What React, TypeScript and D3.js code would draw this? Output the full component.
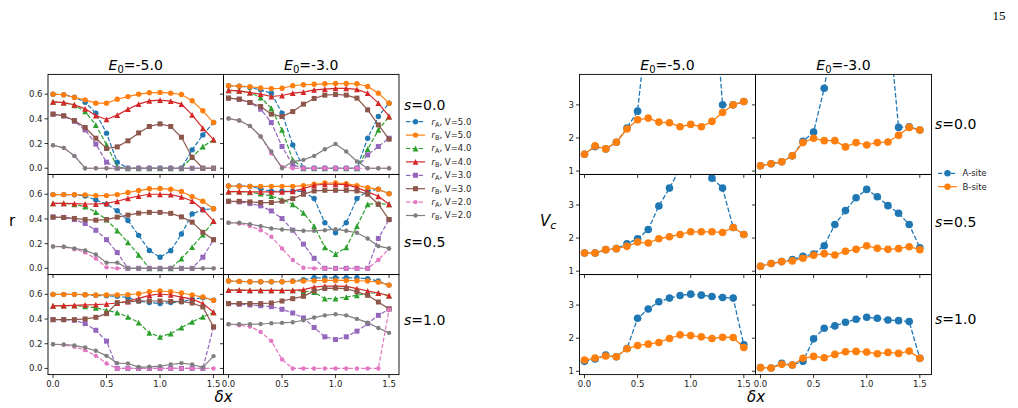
import React from "react";
import * as d3 from "d3";

// ---------- data ----------
const dx = [0, 0.1, 0.2, 0.3, 0.4, 0.5, 0.6, 0.7, 0.8, 0.9, 1.0, 1.1, 1.2, 1.3, 1.4, 1.5];
const E0Labels = ["-5.0", "-3.0"];
const sLabels = ["0.0", "0.5", "1.0"];
const rTicks = [0.0, 0.2, 0.4, 0.6];
const vTicks = [1, 2, 3];
const xTicks = [0.0, 0.5, 1.0, 1.5];
const seriesV = ["5.0", "5.0", "4.0", "4.0", "3.0", "3.0", "2.0", "2.0"];
const seriesSite = ["A", "B", "A", "B", "A", "B", "A", "B"];
const vcLabels = ["A-site", "B-site"];

// E0=-5, s=0.0
const m5s0_rA5 = [0.6, 0.595, 0.576, 0.535, 0.446, 0.284, 0.049, 0, 0, 0, 0, 0, 0, 0.149, 0.27, 0.37];
const m5s0_rB5 = [0.6, 0.595, 0.573, 0.554, 0.527, 0.527, 0.559, 0.58, 0.6, 0.611, 0.614, 0.608, 0.597, 0.546, 0.465, 0.37];
const m5s0_rA4 = [0.538, 0.532, 0.51, 0.46, 0.35, 0.19, 0.01, 0, 0, 0, 0, 0, 0, 0.09, 0.176, 0.23];
const m5s0_rB4 = [0.538, 0.532, 0.514, 0.481, 0.427, 0.395, 0.43, 0.478, 0.519, 0.546, 0.551, 0.543, 0.519, 0.432, 0.324, 0.232];
const m5s0_rA3 = [0.438, 0.424, 0.38, 0.31, 0.195, 0.049, 0, 0, 0, 0, 0, 0, 0, 0, 0, 0];
const m5s0_rB3 = [0.438, 0.424, 0.386, 0.33, 0.243, 0.16, 0.173, 0.222, 0.286, 0.338, 0.359, 0.338, 0.251, 0.089, 0, 0];
const m5s0_rA2 = [0.186, 0.165, 0.1, 0, 0, 0, 0, 0, 0, 0, 0, 0, 0, 0, 0, 0];
const m5s0_rB2 = [0.186, 0.165, 0.1, 0, 0, 0, 0, 0, 0, 0, 0, 0, 0, 0, 0, 0];

// E0=-3, s=0.0
const m3s0_rA5 = [0.668, 0.665, 0.654, 0.635, 0.608, 0.446, 0.189, 0, 0, 0, 0, 0, 0, 0.243, 0.419, 0.527];
const m3s0_rB5 = [0.668, 0.665, 0.66, 0.65, 0.645, 0.648, 0.668, 0.676, 0.68, 0.684, 0.686, 0.686, 0.684, 0.662, 0.608, 0.527];
const m3s0_rA4 = [0.63, 0.627, 0.613, 0.573, 0.486, 0.31, 0.068, 0, 0, 0, 0, 0, 0, 0.154, 0.31, 0.419];
const m3s0_rB4 = [0.63, 0.627, 0.613, 0.6, 0.581, 0.589, 0.608, 0.616, 0.635, 0.641, 0.646, 0.646, 0.638, 0.608, 0.527, 0.419];
const m3s0_rA3 = [0.568, 0.559, 0.532, 0.478, 0.37, 0.176, 0.027, 0, 0, 0, 0, 0, 0, 0.108, 0.176, 0.243];
const m3s0_rB3 = [0.568, 0.559, 0.532, 0.5, 0.438, 0.419, 0.459, 0.519, 0.565, 0.592, 0.597, 0.592, 0.568, 0.473, 0.351, 0.235];
const m3s0_rA2 = [0.403, 0.386, 0.343, 0.257, 0.12, 0.01, 0, 0, 0, 0, 0, 0, 0, 0, 0, 0];
const m3s0_rB2 = [0.403, 0.386, 0.343, 0.257, 0.135, 0, 0.054, 0.068, 0.1, 0.154, 0.197, 0.135, 0.054, 0, 0, 0];

// E0=-5, s=0.5
const m5s05_rA5 = [0.597, 0.597, 0.595, 0.586, 0.554, 0.52, 0.466, 0.387, 0.267, 0.144, 0.09, 0.142, 0.278, 0.441, 0.474, 0.483];
const m5s05_rB5 = [0.597, 0.597, 0.597, 0.595, 0.589, 0.589, 0.597, 0.614, 0.63, 0.644, 0.646, 0.641, 0.622, 0.581, 0.543, 0.483];
const m5s05_rA4 = [0.526, 0.526, 0.518, 0.499, 0.455, 0.395, 0.305, 0.21, 0.109, 0, 0, 0, 0.079, 0.172, 0.273, 0.382];
const m5s05_rB4 = [0.526, 0.526, 0.524, 0.521, 0.521, 0.526, 0.543, 0.567, 0.586, 0.6, 0.6, 0.597, 0.578, 0.545, 0.477, 0.382];
const m5s05_rA3 = [0.415, 0.412, 0.395, 0.363, 0.308, 0.232, 0.128, 0, 0, 0, 0, 0, 0, 0, 0.09, 0.232];
const m5s05_rB3 = [0.415, 0.412, 0.404, 0.395, 0.39, 0.395, 0.415, 0.431, 0.447, 0.453, 0.453, 0.445, 0.417, 0.374, 0.292, 0.232];
const m5s05_rA2 = [0.177, 0.175, 0.155, 0.128, 0.079, 0.008, 0, 0, 0, 0, 0, 0, 0, 0, 0, 0];
const m5s05_rB2 = [0.177, 0.175, 0.161, 0.145, 0.112, 0.046, 0.046, 0, 0, 0, 0, 0, 0, 0, 0, 0];

// E0=-3, s=0.5
const m3s05_rA5 = [0.667, 0.667, 0.664, 0.645, 0.624, 0.624, 0.624, 0.624, 0.565, 0.369, 0.288, 0.369, 0.565, 0.627, 0.64, 0.605];
const m3s05_rB5 = [0.667, 0.664, 0.664, 0.664, 0.664, 0.664, 0.664, 0.67, 0.681, 0.691, 0.691, 0.686, 0.67, 0.654, 0.64, 0.605];
const m3s05_rA4 = [0.621, 0.621, 0.616, 0.605, 0.586, 0.556, 0.519, 0.449, 0.342, 0.169, 0.116, 0.169, 0.342, 0.519, 0.525, 0.519];
const m3s05_rB4 = [0.621, 0.621, 0.619, 0.619, 0.619, 0.619, 0.624, 0.646, 0.673, 0.681, 0.681, 0.678, 0.654, 0.619, 0.584, 0.519];
const m3s05_rA3 = [0.543, 0.538, 0.525, 0.506, 0.465, 0.403, 0.309, 0.196, 0.081, 0, 0, 0, 0, 0, 0.242, 0.395];
const m3s05_rB3 = [0.543, 0.543, 0.538, 0.533, 0.533, 0.543, 0.565, 0.6, 0.627, 0.632, 0.632, 0.632, 0.627, 0.6, 0.519, 0.395];
const m3s05_rA2 = [0.369, 0.363, 0.342, 0.309, 0.256, 0.161, 0.067, 0.005, 0, 0, 0, 0, 0, 0, 0.067, 0.161];
const m3s05_rB2 = [0.369, 0.369, 0.358, 0.342, 0.323, 0.315, 0.309, 0.304, 0.304, 0.309, 0.317, 0.304, 0.288, 0.242, 0.18, 0.161];

// E0=-5, s=1.0
const m5s10_rA5 = [0.6, 0.6, 0.6, 0.597, 0.592, 0.589, 0.584, 0.573, 0.546, 0.533, 0.525, 0.533, 0.54, 0.56, 0.573, 0.552];
const m5s10_rB5 = [0.6, 0.6, 0.6, 0.597, 0.595, 0.595, 0.595, 0.597, 0.605, 0.621, 0.627, 0.621, 0.611, 0.595, 0.578, 0.552];
const m5s10_rA4 = [0.506, 0.508, 0.508, 0.503, 0.49, 0.471, 0.452, 0.417, 0.371, 0.288, 0.256, 0.282, 0.331, 0.377, 0.417, 0.455];
const m5s10_rB4 = [0.506, 0.508, 0.511, 0.514, 0.517, 0.522, 0.53, 0.543, 0.568, 0.592, 0.603, 0.595, 0.578, 0.562, 0.525, 0.455];
const m5s10_rA3 = [0.395, 0.395, 0.39, 0.363, 0.309, 0.221, 0, 0, 0, 0, 0, 0, 0, 0, 0, 0.336];
const m5s10_rB3 = [0.395, 0.395, 0.395, 0.401, 0.414, 0.444, 0.533, 0.538, 0.546, 0.546, 0.546, 0.543, 0.541, 0.53, 0.498, 0.336];
const m5s10_rA2 = [0.196, 0.191, 0.175, 0.148, 0.102, 0.04, 0, 0, 0, 0, 0, 0, 0, 0, 0, 0];
const m5s10_rB2 = [0.196, 0.194, 0.186, 0.169, 0.143, 0.102, 0.043, 0.04, 0.011, 0.013, 0.019, 0.032, 0.043, 0.032, 0.008, 0.1];

// E0=-3, s=1.0
const m3s10_rA5 = [0.708, 0.705, 0.702, 0.702, 0.702, 0.702, 0.708, 0.718, 0.734, 0.734, 0.734, 0.734, 0.734, 0.726, 0.708, 0.675];
const m3s10_rB5 = [0.708, 0.705, 0.702, 0.702, 0.702, 0.702, 0.705, 0.708, 0.71, 0.713, 0.713, 0.713, 0.71, 0.708, 0.699, 0.675];
const m3s10_rA4 = [0.635, 0.635, 0.632, 0.632, 0.632, 0.632, 0.632, 0.627, 0.619, 0.565, 0.565, 0.578, 0.592, 0.611, 0.611, 0.589];
const m3s10_rB4 = [0.635, 0.635, 0.632, 0.632, 0.632, 0.632, 0.632, 0.638, 0.659, 0.667, 0.667, 0.665, 0.646, 0.627, 0.611, 0.589];
const m3s10_rA3 = [0.525, 0.52, 0.514, 0.508, 0.5, 0.479, 0.449, 0.409, 0.332, 0.256, 0.234, 0.256, 0.302, 0.363, 0.43, 0.482];
const m3s10_rB3 = [0.525, 0.525, 0.525, 0.525, 0.53, 0.546, 0.565, 0.584, 0.627, 0.648, 0.651, 0.646, 0.621, 0.592, 0.538, 0.482];
const m3s10_rA2 = [0.358, 0.35, 0.34, 0.296, 0.223, 0.073, 0, 0, 0, 0, 0, 0, 0, 0, 0, 0.476];
const m3s10_rB2 = [0.358, 0.358, 0.358, 0.36, 0.366, 0.369, 0.374, 0.39, 0.412, 0.43, 0.439, 0.43, 0.401, 0.371, 0.328, 0.288];

// Vc (critical V)
const vc_m5s0_A = [1.51, 1.74, 1.67, 1.87, 2.3, 2.81, 5.8, 7.0, 7.5, 7.6, 7.6, 7.5, 7.2, 3.0, 3.0, 3.1];
const vc_m5s0_B = [1.51, 1.76, 1.67, 1.87, 2.27, 2.55, 2.6, 2.48, 2.46, 2.34, 2.41, 2.34, 2.5, 2.77, 3.0, 3.1];
const vc_m3s0_A = [1.16, 1.22, 1.28, 1.46, 1.9, 2.18, 3.5, 5.4, 6.5, 6.8, 6.8, 6.5, 5.75, 2.32, 2.34, 2.24];
const vc_m3s0_B = [1.16, 1.22, 1.28, 1.46, 1.86, 1.99, 1.92, 1.92, 1.73, 1.86, 1.79, 1.86, 1.88, 2.08, 2.32, 2.24];
const vc_m5s05_A = [1.55, 1.55, 1.65, 1.68, 1.83, 1.98, 2.26, 2.97, 3.51, 4.1, 4.3, 4.2, 3.81, 3.51, 2.32, 2.11];
const vc_m5s05_B = [1.55, 1.55, 1.65, 1.68, 1.75, 1.88, 1.85, 1.98, 2.04, 2.11, 2.19, 2.19, 2.19, 2.17, 2.32, 2.11];
const vc_m3s05_A = [1.15, 1.23, 1.29, 1.35, 1.45, 1.52, 1.77, 2.41, 2.83, 3.22, 3.47, 3.25, 2.98, 2.75, 2.41, 1.71];
const vc_m3s05_B = [1.15, 1.23, 1.29, 1.31, 1.39, 1.48, 1.53, 1.49, 1.6, 1.66, 1.77, 1.69, 1.66, 1.68, 1.74, 1.65];
const vc_m5s10_A = [1.3, 1.37, 1.49, 1.44, 1.69, 2.6, 2.88, 3.1, 3.21, 3.29, 3.33, 3.3, 3.26, 3.23, 3.21, 1.8];
const vc_m5s10_B = [1.34, 1.4, 1.46, 1.44, 1.68, 1.78, 1.82, 1.87, 1.99, 2.1, 2.08, 2.04, 1.99, 2.03, 2.02, 1.72];
const vc_m3s10_A = [1.11, 1.1, 1.24, 1.19, 1.3, 1.98, 2.3, 2.37, 2.48, 2.57, 2.63, 2.6, 2.55, 2.53, 2.5, 1.39];
const vc_m3s10_B = [1.11, 1.1, 1.21, 1.19, 1.39, 1.45, 1.41, 1.51, 1.59, 1.6, 1.58, 1.53, 1.57, 1.54, 1.61, 1.39];

// panel tables [row s][col E0]
const rPanels = [
  [
    [m5s0_rA5, m5s0_rB5, m5s0_rA4, m5s0_rB4, m5s0_rA3, m5s0_rB3, m5s0_rA2, m5s0_rB2],
    [m3s0_rA5, m3s0_rB5, m3s0_rA4, m3s0_rB4, m3s0_rA3, m3s0_rB3, m3s0_rA2, m3s0_rB2],
  ],
  [
    [m5s05_rA5, m5s05_rB5, m5s05_rA4, m5s05_rB4, m5s05_rA3, m5s05_rB3, m5s05_rA2, m5s05_rB2],
    [m3s05_rA5, m3s05_rB5, m3s05_rA4, m3s05_rB4, m3s05_rA3, m3s05_rB3, m3s05_rA2, m3s05_rB2],
  ],
  [
    [m5s10_rA5, m5s10_rB5, m5s10_rA4, m5s10_rB4, m5s10_rA3, m5s10_rB3, m5s10_rA2, m5s10_rB2],
    [m3s10_rA5, m3s10_rB5, m3s10_rA4, m3s10_rB4, m3s10_rA3, m3s10_rB3, m3s10_rA2, m3s10_rB2],
  ],
];
const vcPanels = [
  [[vc_m5s0_A, vc_m5s0_B], [vc_m3s0_A, vc_m3s0_B]],
  [[vc_m5s05_A, vc_m5s05_B], [vc_m3s05_A, vc_m3s05_B]],
  [[vc_m5s10_A, vc_m5s10_B], [vc_m3s10_A, vc_m3s10_B]],
];

// ---------- styles ----------
const FONT = "'DejaVu Sans', sans-serif";
const rColors = ["#1f77b4", "#ff7f0e", "#2ca02c", "#d62728", "#9467bd", "#8c564b", "#e377c2", "#7f7f7f"];
const rDashed = [true, false, true, false, true, false, true, false];
const rMarkers = ["o", "o", "^", "^", "s", "s", ".", "."];
const vcColors = ["#1f77b4", "#ff7f0e"];
const vcDashed = [true, false];

const LCOLS = [48, 223.5];
const RCOLS = [579.5, 755.5];
const ROWS = [74.4, 174.5, 274.6];
const PH = 100;
const LPW = 175.5;
const RPW = 176;

function Marker({ kind, x, y, color, big }: { kind: string; x: number; y: number; color: string; big?: boolean }) {
  if (kind === "o") return <circle cx={x} cy={y} r={big ? 3.8 : 2.7} fill={color} />;
  if (kind === ".") return <circle cx={x} cy={y} r={2.2} fill={color} />;
  if (kind === "^") {
    const s = 2.9;
    return <path d={`M${x},${y - s}L${x + s},${y + s}L${x - s},${y + s}Z`} fill={color} />;
  }
  const s = 2.5;
  return <rect x={x - s} y={y - s} width={2 * s} height={2 * s} fill={color} />;
}

function Panel({
  id, x0, y0, w, xDomain, yDomain, series, colors, dashed, markers, big, yTicks, yFmt, showY, showX,
}: any) {
  const xs = d3.scaleLinear().domain(xDomain).range([x0, x0 + w]);
  const ys = d3.scaleLinear().domain(yDomain).range([y0 + PH, y0]);
  const line = d3.line<number>().x((_, i) => xs(dx[i])).y((d) => ys(d));
  const lw = big ? 1.3 : 1.2;
  return (
    <g>
      <defs>
        <clipPath id={id}>
          <rect x={x0} y={y0} width={w} height={PH} />
        </clipPath>
      </defs>
      <g clipPath={`url(#${id})`}>
        {series.map((vals: number[], k: number) => (
          <g key={k}>
            <path d={line(vals) || ""} fill="none" stroke={colors[k]} strokeWidth={lw}
              strokeDasharray={dashed[k] ? (big ? "4.8,2.1" : "4.4,1.9") : undefined} />
            {vals.map((v, i) => (
              <Marker key={i} kind={markers[k]} x={xs(dx[i])} y={ys(v)} color={colors[k]} big={big} />
            ))}
          </g>
        ))}
      </g>
      <rect x={x0} y={y0} width={w} height={PH} fill="none" stroke="#000" strokeWidth={0.9} />
      {yTicks.map((t: number) => (
        <g key={"y" + t}>
          <line x1={x0 - 3.5} x2={x0} y1={ys(t)} y2={ys(t)} stroke="#000" strokeWidth={0.8} />
          {showY && (
            <text x={x0 - 5.5} y={ys(t)} dy="0.35em" textAnchor="end" fontSize={8.5} fontFamily={FONT} fill="#222">
              {yFmt(t)}
            </text>
          )}
        </g>
      ))}
      {xTicks.map((t) => (
        <g key={"x" + t}>
          <line x1={xs(t)} x2={xs(t)} y1={y0 + PH} y2={y0 + PH + 3.5} stroke="#000" strokeWidth={0.8} />
          {showX && (
            <text x={xs(t)} y={y0 + PH + 12.3} textAnchor="middle" fontSize={8.5} fontFamily={FONT} fill="#222">
              {t.toFixed(1)}
            </text>
          )}
        </g>
      ))}
    </g>
  );
}

function Title({ x, y, label }: { x: number; y: number; label: string }) {
  return (
    <text x={x} y={y} textAnchor="middle" fontSize={14} fontFamily={FONT}>
      <tspan fontStyle="italic">E</tspan>
      <tspan fontSize={10} dy={3}>0</tspan>
      <tspan dy={-3}>={label}</tspan>
    </text>
  );
}

function SLabel({ x, y, label }: { x: number; y: number; label: string }) {
  return (
    <text x={x} y={y} fontSize={14} fontFamily={FONT}>
      <tspan fontStyle="italic">s</tspan>={label}
    </text>
  );
}

export default function App() {
  const lLegendY = 121.7;
  const legStep = 13.4;
  return (
    <svg width={1018} height={408} style={{ position: "absolute", left: 0, top: 0, background: "#fff" }}>
      <rect x={0} y={0} width={1018} height={408} fill="#fff" />
      <text x={999} y={20} textAnchor="middle" fontSize={13} fontFamily="'Liberation Serif', serif">15</text>

      {/* left figure: r */}
      {E0Labels.map((e, c) => (
        <Title key={"lt" + c} x={LCOLS[c] + LPW / 2} y={70} label={e} />
      ))}
      {rPanels.map((row, r) =>
        row.map((series, c) => (
          <Panel key={`l${r}${c}`} id={`cl${r}${c}`} x0={LCOLS[c]} y0={ROWS[r]} w={LPW}
            xDomain={[-0.047, 1.593]} yDomain={[-0.05, 0.76]} series={series}
            colors={rColors} dashed={rDashed} markers={rMarkers} big={false}
            yTicks={rTicks} yFmt={(t: number) => t.toFixed(1)} showY={c === 0} showX={r === 2} />
        ))
      )}
      <text x={9} y={226} fontSize={15} fontFamily={FONT}>r</text>
      <text x={223.5} y={402} textAnchor="middle" fontSize={15} fontFamily={FONT} fontStyle="italic">δx</text>
      <SLabel x={404} y={110} label={sLabels[0]} />
      <SLabel x={404} y={246.5} label={sLabels[1]} />
      <SLabel x={404} y={325} label={sLabels[2]} />
      {seriesV.map((v, k) => {
        const y = lLegendY + k * legStep;
        return (
          <g key={"lg" + k}>
            <line x1={406} x2={425} y1={y} y2={y} stroke={rColors[k]} strokeWidth={1.2}
              strokeDasharray={rDashed[k] ? "4.4,1.9" : undefined} />
            <Marker kind={rMarkers[k]} x={415.5} y={y} color={rColors[k]} />
            <text x={431.5} y={y} dy="0.33em" fontSize={8.5} fontFamily={FONT} fill="#222">
              <tspan fontStyle="italic">r</tspan>
              <tspan fontSize={6.5} dy={2}>{seriesSite[k]}</tspan>
              <tspan dy={-2}>, V={v}</tspan>
            </text>
          </g>
        );
      })}

      {/* right figure: Vc */}
      {E0Labels.map((e, c) => (
        <Title key={"rt" + c} x={RCOLS[c] + RPW / 2} y={70} label={e} />
      ))}
      {vcPanels.map((row, r) =>
        row.map((series, c) => (
          <Panel key={`r${r}${c}`} id={`cr${r}${c}`} x0={RCOLS[c]} y0={ROWS[r]} w={RPW}
            xDomain={[-0.047, 1.61]} yDomain={[0.9, 3.92]} series={series}
            colors={vcColors} dashed={vcDashed} markers={["o", "o"]} big={true}
            yTicks={vTicks} yFmt={(t: number) => String(t)} showY={c === 0} showX={r === 2} />
        ))
      )}
      <text x={540} y={226} fontSize={15} fontFamily={FONT}>
        <tspan fontStyle="italic">V</tspan>
        <tspan fontSize={11} dy={3} fontStyle="italic">c</tspan>
      </text>
      <text x={756} y={402} textAnchor="middle" fontSize={15} fontFamily={FONT} fontStyle="italic">δx</text>
      <SLabel x={935} y={129} label={sLabels[0]} />
      <SLabel x={935} y={226.5} label={sLabels[1]} />
      <SLabel x={935} y={324} label={sLabels[2]} />
      {vcLabels.map((lab, k) => {
        const y = 173.3 + k * legStep;
        return (
          <g key={"rg" + k}>
            <line x1={938} x2={957} y1={y} y2={y} stroke={vcColors[k]} strokeWidth={1.2}
              strokeDasharray={vcDashed[k] ? "4.4,1.9" : undefined} />
            <circle cx={947.5} cy={y} r={3.2} fill={vcColors[k]} />
            <text x={962.5} y={y} dy="0.33em" fontSize={8.5} fontFamily={FONT} fill="#222">{lab}</text>
          </g>
        );
      })}
    </svg>
  );
}
